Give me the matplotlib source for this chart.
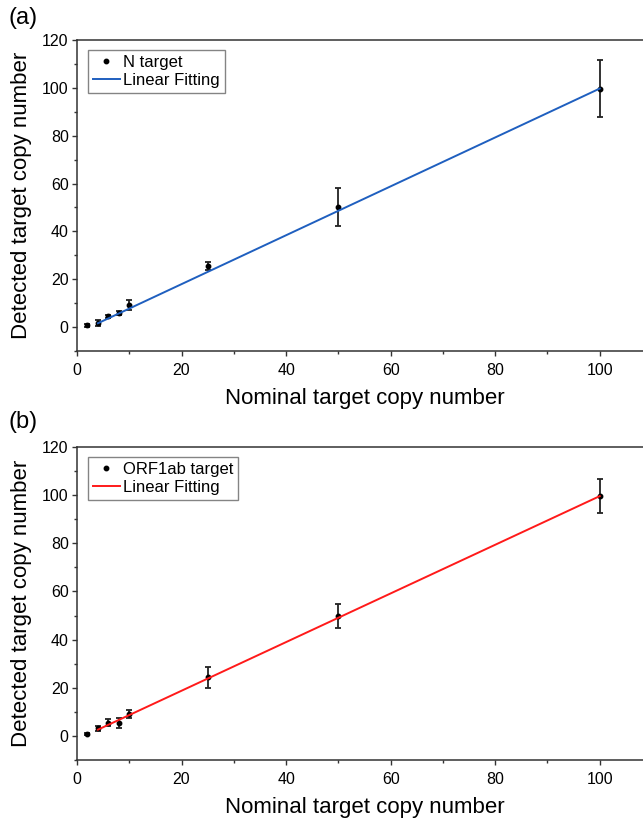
import matplotlib
matplotlib.use('Agg')
import matplotlib.pyplot as plt
from matplotlib.ticker import MultipleLocator

plt.rcParams['font.family'] = ['Liberation Sans', 'DejaVu Sans']

# nominal copy numbers
nominal = [2, 4, 6, 8, 10, 25, 50, 100]

# N target (panel a)
n_detected = [0.7, 1.8, 4.5, 6.0, 9.2, 25.6, 50.1, 99.7]
n_err = [0.5, 1.2, 0.5, 0.8, 2.0, 1.6, 8.0, 12.0]
n_fit_x = [4, 100]
n_fit_y = [1.6, 99.7]

# ORF1ab target (panel b)
orf_detected = [0.7, 3.2, 5.5, 5.3, 9.1, 24.4, 49.8, 99.6]
orf_err = [0.5, 1.1, 1.5, 2.0, 1.5, 4.4, 5.0, 7.0]
orf_fit_x = [4, 100]
orf_fit_y = [2.6, 99.6]

W, H = 643, 819
fig = plt.figure(figsize=(W/100, H/100), dpi=100)

ax_a = fig.add_axes([77/W, 468/H, 575/W, 311/H])
ax_b = fig.add_axes([77/W, 59/H, 575/W, 313/H])

panels = [
    (ax_a, n_detected, n_err, n_fit_x, n_fit_y, 'N target', '#1f5fbf', '(a)', 18/H),
    (ax_b, orf_detected, orf_err, orf_fit_x, orf_fit_y, 'ORF1ab target', '#ff1a1a', '(b)', 422/H),
]

for ax, det, err, fx, fy, name, col, tag, tag_y in panels:
    ax.errorbar(nominal, det, yerr=err, fmt='none', ecolor='#222222',
                elinewidth=1.3, capsize=2.4, capthick=1.3, zorder=2)
    ax.plot(nominal, det, 'o', color='black', markersize=3.2, ls='none',
            zorder=3, label=name)
    ax.plot(fx, fy, '-', color=col, lw=1.4, zorder=4, label='Linear Fitting')

    ax.set_xlim(0, 110)
    ax.set_ylim(-10, 120)
    ax.xaxis.set_major_locator(MultipleLocator(20))
    ax.xaxis.set_minor_locator(MultipleLocator(10))
    ax.yaxis.set_major_locator(MultipleLocator(20))
    ax.yaxis.set_minor_locator(MultipleLocator(10))
    ax.tick_params(which='major', length=3.5, width=1, labelsize=11.5, color='#333333')
    ax.tick_params(axis='x', which='major', pad=5)
    ax.tick_params(axis='y', which='major', pad=2.5)
    ax.tick_params(which='minor', length=2.5, width=1, color='#333333')
    for s in ax.spines.values():
        s.set_color('#333333')
        s.set_linewidth(1.1)

    ax.set_xlabel('Nominal target copy number', fontsize=16, labelpad=7)
    ax.set_ylabel('Detected target copy number', fontsize=16)

    h, l = ax.get_legend_handles_labels()
    leg = ax.legend(h, l, loc='upper left', bbox_to_anchor=(11/575, 1 - 10/311),
                    fontsize=12, frameon=True, fancybox=False, borderpad=0.3,
                    labelspacing=0.15, handlelength=1.6, handletextpad=0.2,
                    borderaxespad=0)
    leg.get_frame().set_edgecolor('#666666')
    leg.get_frame().set_linewidth(1.0)

    fig.text(8/W, 1 - tag_y, tag, fontsize=17, va='center', ha='left')

ax_a.yaxis.set_label_coords(-0.078, 0.5)
ax_b.yaxis.set_label_coords(-0.078, 0.5)

fig.savefig('out.png', dpi=100)
